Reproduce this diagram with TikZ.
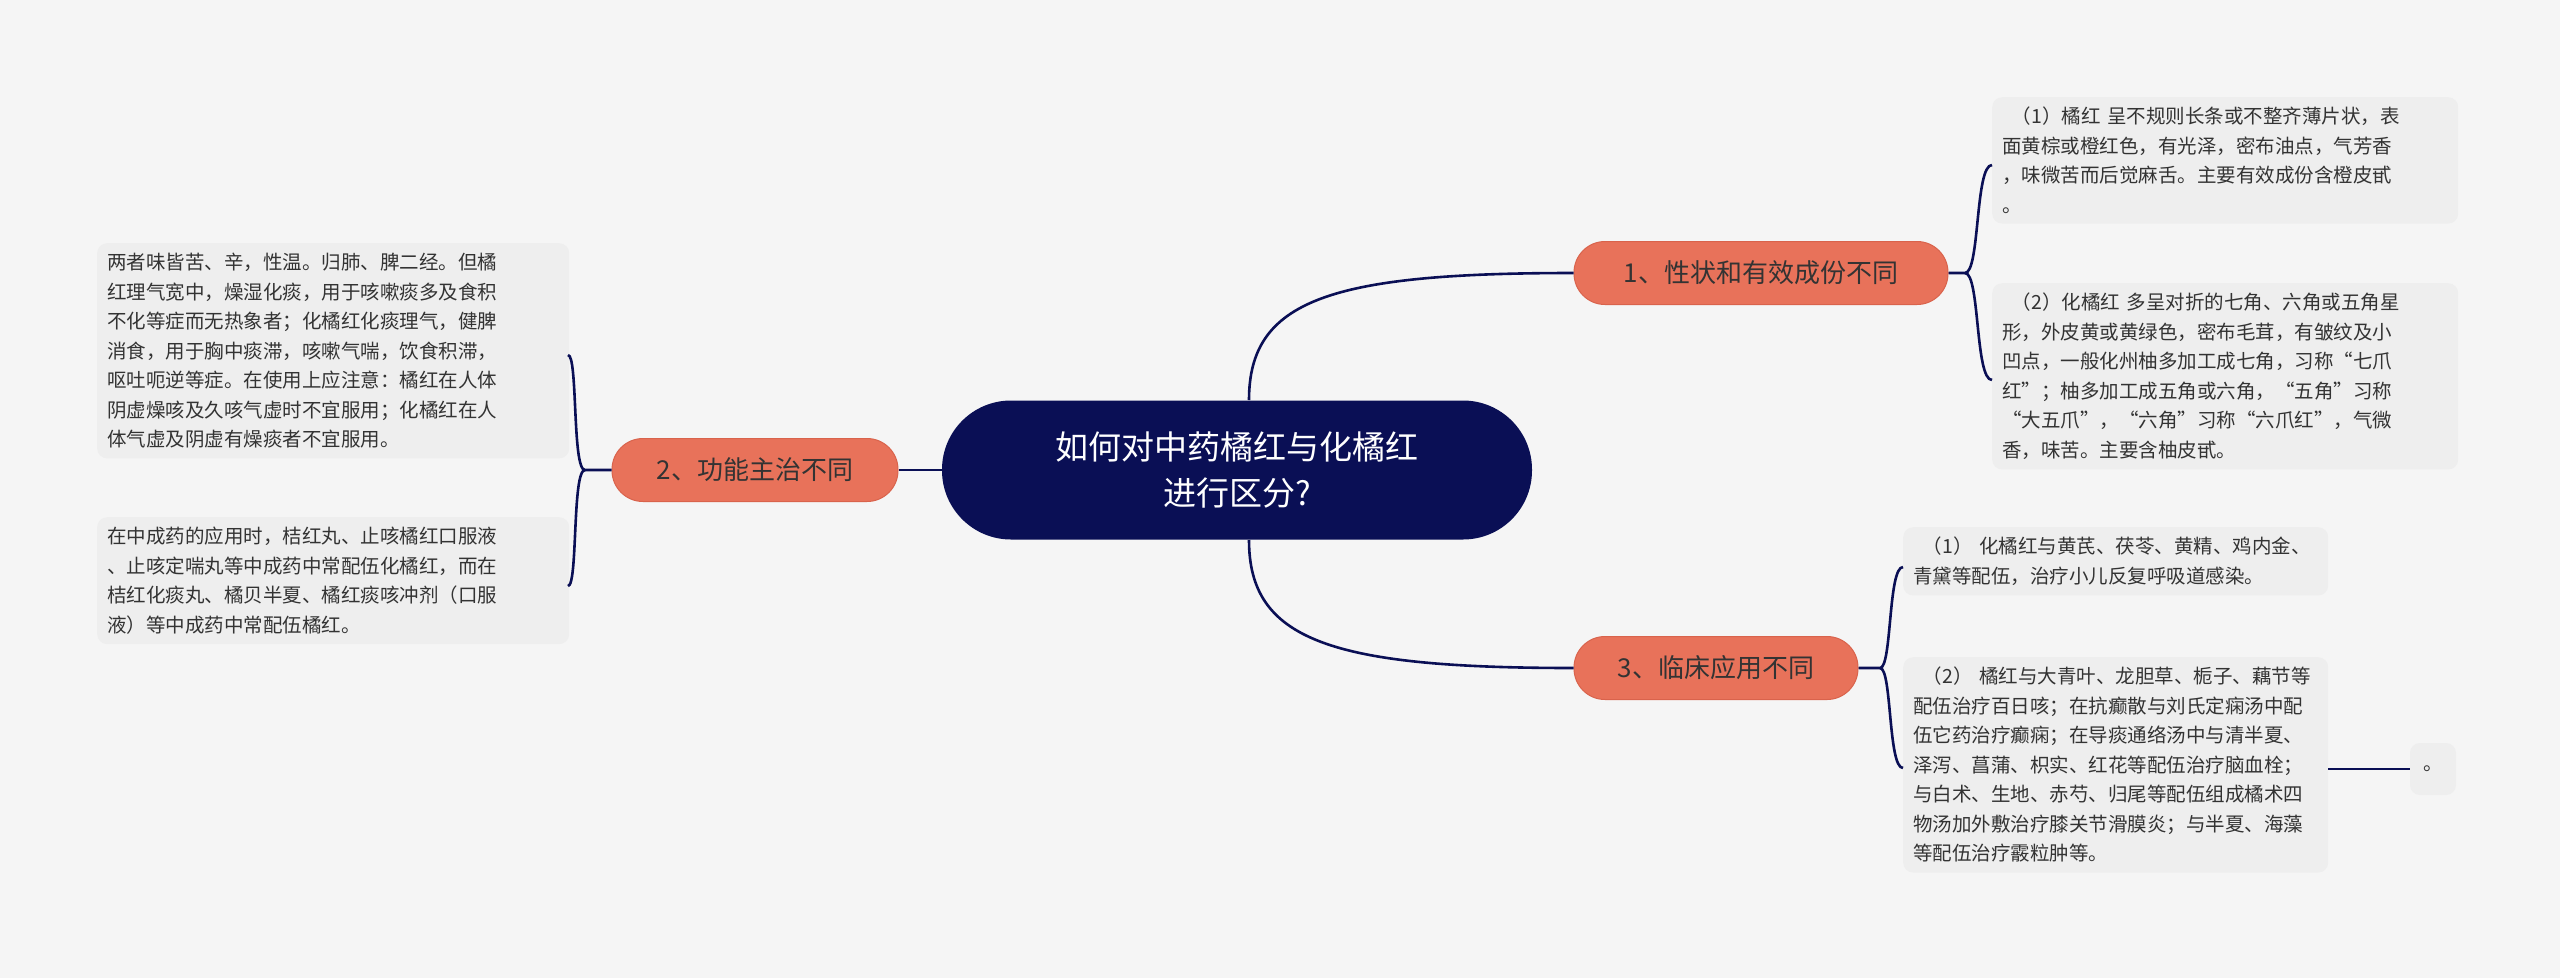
\documentclass[tikz,border=0pt]{standalone}
\usepackage{fontspec}
\setmainfont{Noto Sans CJK SC}
\begin{document}
\begin{tikzpicture}[x=1pt,y=-1pt,
  main/.style={fill=navy,rounded corners=69pt,minimum width=590pt,minimum height=139pt,text=white,font=\fontsize{33}{46}\selectfont,align=center},
  sub/.style={fill=coral,draw=coraldk,line width=1pt,rounded corners=31pt,minimum height=63pt,text=txt,font=\fontsize{26}{30}\selectfont},
  leaf/.style={fill=leafbg,rounded corners=10pt,inner sep=10pt,text=txt,font=\fontsize{19.5}{29.5}\selectfont,align=left,anchor=north west},
  con/.style={draw=navy,line width=2.6pt}]
\definecolor{navy}{HTML}{0A0F55}
\definecolor{coral}{HTML}{E8725A}
\definecolor{coraldk}{HTML}{D9634C}
\definecolor{leafbg}{HTML}{EEEEEE}
\definecolor{txt}{HTML}{333333}
\fill[white!96!black] (0,0) rectangle (2560,978);
\useasboundingbox (0,0) rectangle (2560,978);

\node[main] (c) at (1237,470) {如何对中药橘红与化橘红\\进行区分?};
\node[sub,minimum width=374pt] (n1) at (1761,273) {1、性状和有效成份不同};
\node[sub,minimum width=286pt] (n2) at (755,470) {2、功能主治不同};
\node[sub,minimum width=284pt] (n3) at (1716,668) {3、临床应用不同};

\node[leaf,text width=446pt] (l1a) at (1992,97) {\hspace*{0.5em}（1）橘红 呈不规则长条或不整齐薄片状，表\\面黄棕或橙红色，有光泽，密布油点，气芳香\\，味微苦而后觉麻舌。主要有效成份含橙皮甙\\。};
\node[leaf,text width=446pt] (l1b) at (1992,283) {\hspace*{0.5em}（2）化橘红 多呈对折的七角、六角或五角星\\形，外皮黄或黄绿色，密布毛茸，有皱纹及小\\凹点，一般化州柚多加工成七角，习称“七爪\\红”；柚多加工成五角或六角，“五角”习称\\“大五爪”，“六角”习称“六爪红”，气微\\香，味苦。主要含柚皮甙。};
\node[leaf,text width=452pt] (l2a) at (97,243) {两者味皆苦、辛，性温。归肺、脾二经。但橘\\红理气宽中，燥湿化痰，用于咳嗽痰多及食积\\不化等症而无热象者；化橘红化痰理气，健脾\\消食，用于胸中痰滞，咳嗽气喘，饮食积滞，\\呕吐呃逆等症。在使用上应注意：橘红在人体\\阴虚燥咳及久咳气虚时不宜服用；化橘红在人\\体气虚及阴虚有燥痰者不宜服用。};
\node[leaf,text width=452pt] (l2b) at (97,517) {在中成药的应用时，桔红丸、止咳橘红口服液\\、止咳定喘丸等中成药中常配伍化橘红，而在\\桔红化痰丸、橘贝半夏、橘红痰咳冲剂（口服\\液）等中成药中常配伍橘红。};
\node[leaf,text width=405pt] (l3a) at (1903,527) {\hspace*{0.5em}（1） 化橘红与黄芪、茯苓、黄精、鸡内金、\\青黛等配伍，治疗小儿反复呼吸道感染。};
\node[leaf,text width=405pt] (l3b) at (1903,657) {\hspace*{0.5em}（2） 橘红与大青叶、龙胆草、栀子、藕节等\\配伍治疗百日咳；在抗癫散与刘氏定痫汤中配\\伍它药治疗癫痫；在导痰通络汤中与清半夏、\\泽泻、菖蒲、枳实、红花等配伍治疗脑血栓；\\与白术、生地、赤芍、归尾等配伍组成橘术四\\物汤加外敷治疗膝关节滑膜炎；与半夏、海藻\\等配伍治疗霰粒肿等。};
\node[leaf,anchor=center,minimum width=46pt,minimum height=52pt] (l3c) at (2433,769) {。};

% connectors
\draw[con] (1249,400) .. controls (1249,300) and (1330,273) .. (n1.west);
\draw[con] (1249,540) .. controls (1249,640) and (1330,668) .. (n3.west);
\draw[con] (c.west) -- (n2.east);
\draw[con] (n1.east) -- (1965,273) .. controls (1980,273) and (1975,165) .. (1992,165);
\draw[con] (1965,273) .. controls (1980,273) and (1975,380) .. (1992,380);
\draw[con] (n2.west) -- (585,470) .. controls (572,470) and (578,355) .. (568,355);
\draw[con] (585,470) .. controls (572,470) and (578,586) .. (568,586);
\draw[con] (n3.east) -- (1880,668) .. controls (1892,668) and (1888,567) .. (1903,567);
\draw[con] (1880,668) .. controls (1892,668) and (1888,768) .. (1903,768);
\draw[con] (l3b.east |- l3c) -- (l3c.west);
\end{tikzpicture}
\end{document}
